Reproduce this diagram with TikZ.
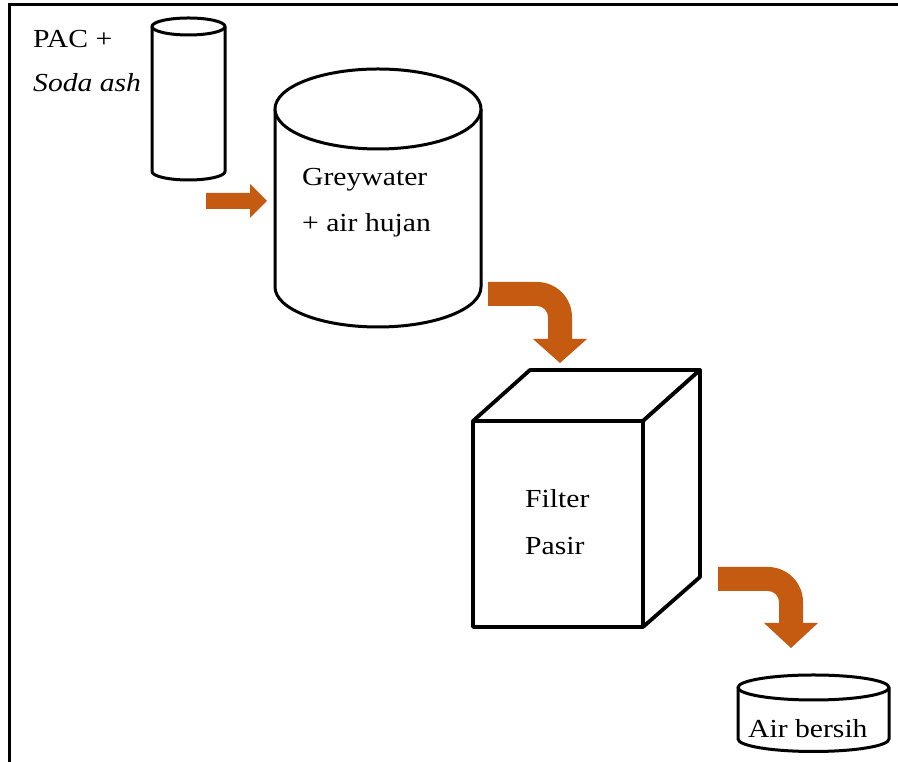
\documentclass[tikz,border=0pt]{standalone}
\usepackage{fontspec}
\setmainfont[FakeStretch=1.14]{Liberation Serif}
\definecolor{flow}{HTML}{C55A11}
\begin{document}
\begin{tikzpicture}[x=1pt,y=1pt,
  outline/.style={draw=black,line width=3pt,fill=white,line join=round},
  boxline/.style={outline,line width=3.8pt},
  flowarrow/.style={fill=flow,draw=none},
  lbl/.style={anchor=base west,inner sep=0pt,font=\fontsize{26}{30}\selectfont}]
\useasboundingbox (0,0) rectangle (898,762);
% frame (top and left edges only)
\draw[line width=3pt] (9,0) -- (9,757) -- (898,757);

% small chemical cylinder
\draw[outline] (152,735.5) -- (152,590.5) arc[start angle=180,end angle=360,x radius=36.5,y radius=8.5] -- (225,735.5);
\draw[outline] (188.5,735.5) ellipse[x radius=36.5,y radius=8.5];
\node[lbl] (pac) at (33,714) {PAC +};
\node[lbl] (soda) at (33,670) {\itshape Soda ash};

% arrow 1
\fill[flowarrow] (206,553) -- (250,553) -- (250,544) -- (267,561) -- (250,578) -- (250,569) -- (206,569) -- cycle;

% big cylinder
\draw[outline] (275,653) -- (275,475) arc[start angle=180,end angle=360,x radius=103,y radius=40] -- (481,653);
\draw[outline] (378,653) ellipse[x radius=103,y radius=40];
\node[lbl] (grey) at (302,576) {Greywater};
\node[lbl] (hujan) at (302,530) {+ air hujan};

% arrow 2
\fill[flowarrow] (488,480) -- (537,480) arc[start angle=90,end angle=0,radius=35] -- (572,423) -- (587,423) -- (560,399) -- (533,423) -- (548,423) -- (548,445) arc[start angle=0,end angle=90,radius=11] -- (488,456) -- cycle;

% cube (filter)
\draw[boxline] (473,341) -- (530,392) -- (700,392) -- (643,341) -- cycle;
\draw[boxline] (643,341) -- (700,392) -- (700,185) -- (643,135) -- cycle;
\draw[boxline] (473,135) rectangle (643,341);
\node[lbl] (filter) at (525,254) {Filter};
\node[lbl] (pasir) at (525,207) {Pasir};

% arrow 3
\fill[flowarrow] (718,195) -- (768,195) arc[start angle=90,end angle=0,radius=35] -- (803,139) -- (818,139) -- (791,114) -- (764,139) -- (779,139) -- (779,160) arc[start angle=0,end angle=90,radius=11] -- (718,171) -- cycle;

% clean water cylinder
\draw[outline] (738,74.5) -- (738,23) arc[start angle=180,end angle=360,x radius=75.5,y radius=12.5] -- (889,74.5);
\draw[outline] (813.5,74.5) ellipse[x radius=75.5,y radius=12.5];
\node[lbl] (bersih) at (748,24) {Air bersih};
\end{tikzpicture}
\end{document}
